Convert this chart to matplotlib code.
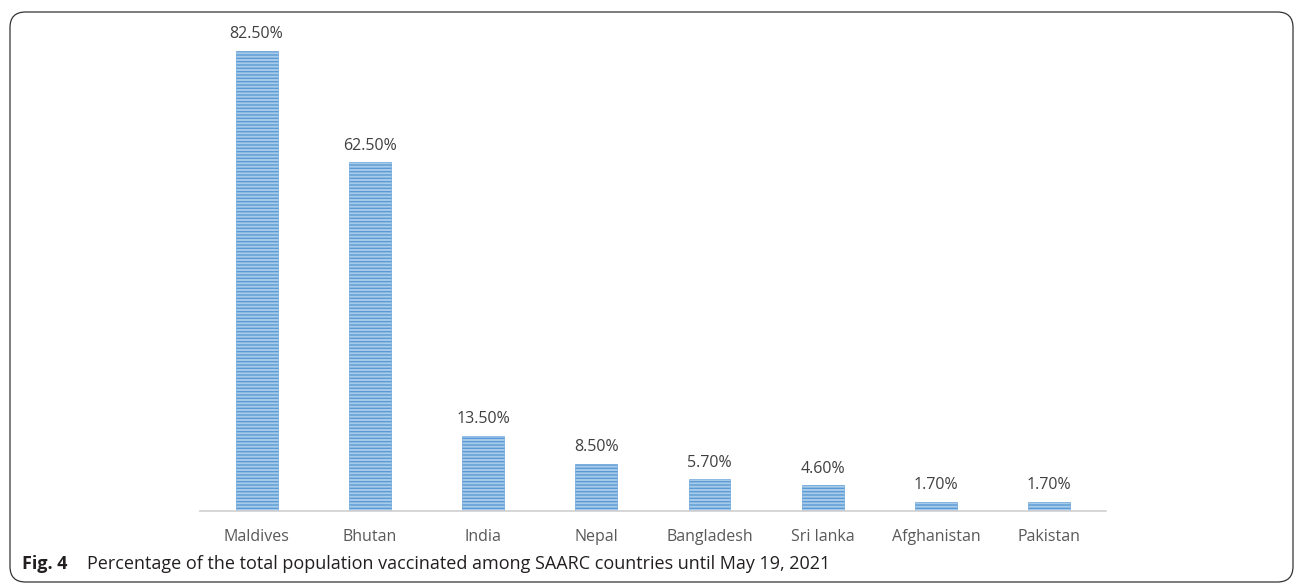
import matplotlib.pyplot as plt
from matplotlib.patches import FancyBboxPatch

countries = ['Maldives', 'Bhutan', 'India', 'Nepal', 'Bangladesh', 'Sri lanka', 'Afghanistan', 'Pakistan']
vaccinated = [82.5, 62.5, 13.5, 8.5, 5.7, 4.6, 1.7, 1.7]
value_labels = ['82.50%', '62.50%', '13.50%', '8.50%', '5.70%', '4.60%', '1.70%', '1.70%']

plt.rcParams['font.family'] = ['Open Sans', 'DejaVu Sans']
plt.rcParams['hatch.linewidth'] = 1.0

fig = plt.figure(figsize=(12.96, 5.86), dpi=100)
ax = fig.add_axes([0.1543, 0.128, 0.699, 0.838])

bars = ax.bar(countries, vaccinated, width=0.37, color='#a9cbea',
              edgecolor='#5b9bd5', linewidth=0.4, hatch='-----')
for b, lab in zip(bars, value_labels):
    ax.text(b.get_x() + b.get_width() / 2, b.get_height() + 1.5, lab,
            ha='center', va='bottom', fontsize=11.5, color='#404040')

ax.set_xlim(-0.5, len(countries) - 0.5)
ax.set_ylim(0, 88)
for s in ['top', 'right', 'left']:
    ax.spines[s].set_visible(False)
ax.spines['bottom'].set_color('#d0d0d0')
ax.spines['bottom'].set_linewidth(1.2)
ax.set_yticks([])
ax.tick_params(axis='x', length=0, pad=13, labelsize=11.5, labelcolor='#595959')

# rounded frame around the figure
frame = FancyBboxPatch((10 / 1296, 4 / 586), 1283 / 1296, 570 / 586,
                       boxstyle='round,pad=0,rounding_size=0.012',
                       transform=fig.transFigure, fill=False,
                       edgecolor='#333333', linewidth=0.9, mutation_aspect=1296 / 586)
fig.patches.append(frame)

fig.text(22 / 1296, 1 - 564 / 586, 'Fig. 4', fontsize=13, fontweight='bold',
         va='center', ha='left', color='#231f20')
fig.text(87 / 1296, 1 - 564 / 586,
         'Percentage of the total population vaccinated among SAARC countries until May 19, 2021',
         fontsize=13, va='center', ha='left', color='#231f20')

fig.savefig('out.png', dpi=100)
